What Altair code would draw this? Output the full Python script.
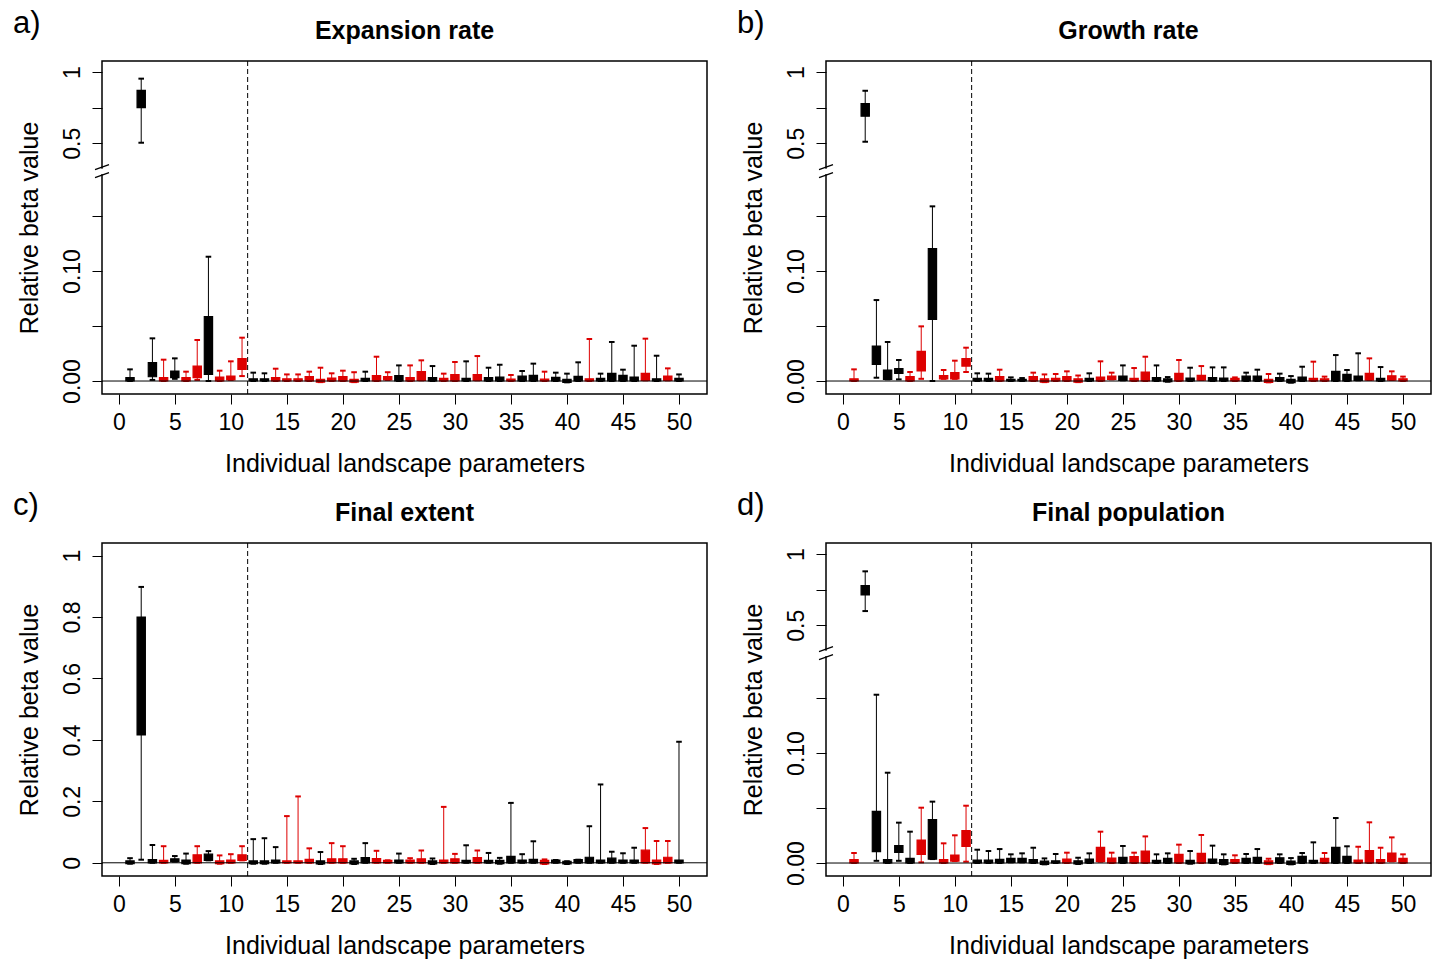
import altair as alt
import pandas as pd

FONT = "Liberation Sans"
RED = "#DD0000"
W, H = 605, 333
SPLIT = 11.5
BRK_LOW, BRK_HIGH, BRK_PIX = 0.1903, 0.3006, 110.7

PARAMS = list(range(1, 51))
X_TICKS = list(range(0, 51, 5))

TITLES = ["Expansion rate", "Growth rate", "Final extent", "Final population"]
LETTERS = ["a)", "b)", "c)", "d)"]

# ---- a) Expansion rate ----
A_COL = list("kkkrkrrkrr" "rkkrrrrrrr" "rkrrkrrkrr" "krkkrkkrkk" "krkkkkrkrk")
A_LO = [0, 0.504, 0.001, 0, 0.002, 0, 0.001, 0, 0, 0.001,
        0.0045, 0, 0, 0, 0, 0, 0, -0.001, 0, 0,
        -0.001, 0, 0, 0.001, 0, 0, 0.0006, 0, 0, 0,
        0, 0.0006, 0, 0, 0, 0, 0, 0, 0, -0.0012,
        0, 0, 0, 0, 0, 0, 0.0006, 0, 0.0006, 0]
A_Q1 = [0, 0.75, 0.0039, 0, 0.003, 0, 0.003, 0.0061, 0, 0.001,
        0.0106, 0, 0, 0, 0, 0, 0, -0.001, 0, 0,
        -0.001, 0, 0, 0.001, 0, 0, 0.0006, 0, 0, 0,
        0, 0.0006, 0, 0, 0, 0, 0, 0, 0, -0.0012,
        0, 0, 0, 0, 0, 0, 0.0006, 0, 0.0006, 0]
A_Q3 = [0.003, 0.872, 0.0167, 0.003, 0.0091, 0.003, 0.0136, 0.0585, 0.0036, 0.0045,
        0.0203, 0.002, 0.002, 0.003, 0.002, 0.002, 0.004, 0.0015, 0.0027, 0.004,
        0.0015, 0.0024, 0.005, 0.004, 0.005, 0.003, 0.0085, 0.003, 0.0024, 0.0058,
        0.0024, 0.0058, 0.003, 0.0036, 0.0018, 0.0045, 0.0052, 0.0018, 0.0033, 0.0015,
        0.0042, 0.002, 0.0024, 0.007, 0.0052, 0.0036, 0.007, 0.002, 0.0045, 0.0024]
A_HI = [0.0106, 0.954, 0.0388, 0.0194, 0.0206, 0.0085, 0.0373, 0.113, 0.0094, 0.0179,
        0.0394, 0.0076, 0.007, 0.0112, 0.006, 0.006, 0.0085, 0.0121, 0.007, 0.0094,
        0.008, 0.0085, 0.0221, 0.008, 0.0142, 0.0142, 0.0188, 0.0136, 0.0067, 0.0173,
        0.0179, 0.0227, 0.0121, 0.0148, 0.0055, 0.0091, 0.0158, 0.0085, 0.0076, 0.0067,
        0.017, 0.0382, 0.0067, 0.0355, 0.0103, 0.0321, 0.0385, 0.023, 0.0115, 0.006]

# ---- b) Growth rate ----
B_COL = list("rkkkkrrkrr" "rkkrkkrrrr" "rkrrkrrkkr" "krkkrkkrkk" "krrkkkrkrr")
B_LO = [0, 0.511, 0.003, 0.0015, 0.0015, 0, 0.002, 0, 0.002, 0.002,
        0.0082, 0, 0, 0, 0, 0, 0, -0.001, 0, 0,
        -0.001, 0, 0, 0.0015, 0.0006, 0, 0, 0, -0.0006, 0,
        0, 0.0009, 0, 0, 0, 0, 0, -0.0012, 0, -0.0015,
        0, 0, 0, 0, 0, 0.0006, 0.0009, 0, 0.0009, 0]
B_Q1 = [0, 0.69, 0.0152, 0.0015, 0.007, 0, 0.0091, 0.0561, 0.002, 0.002,
        0.0136, 0, 0, 0, 0, 0, 0, -0.001, 0, 0,
        -0.001, 0, 0, 0.0015, 0.0006, 0, 0, 0, -0.0006, 0,
        0, 0.0009, 0, 0, 0, 0, 0, -0.0012, 0, -0.0015,
        0, 0, 0, 0, 0, 0.0006, 0.0009, 0, 0.0009, 0]
B_Q3 = [0.002, 0.778, 0.0318, 0.01, 0.0112, 0.004, 0.027, 0.1203, 0.005, 0.0076,
        0.0203, 0.0024, 0.0024, 0.004, 0.0015, 0.0015, 0.004, 0.002, 0.0024, 0.004,
        0.002, 0.0024, 0.0036, 0.0045, 0.0045, 0.0024, 0.0082, 0.003, 0.002, 0.007,
        0.0027, 0.0052, 0.003, 0.0027, 0.0024, 0.0045, 0.0045, 0.0015, 0.003, 0.0015,
        0.0036, 0.0024, 0.002, 0.0088, 0.006, 0.0045, 0.007, 0.0024, 0.0048, 0.002]
B_HI = [0.0106, 0.869, 0.0736, 0.0355, 0.0191, 0.0082, 0.0497, 0.1588, 0.01, 0.0185,
        0.0303, 0.007, 0.0067, 0.0103, 0.0033, 0.0027, 0.0076, 0.006, 0.0064, 0.0088,
        0.005, 0.007, 0.0179, 0.0076, 0.0142, 0.0118, 0.0221, 0.0142, 0.0036, 0.0191,
        0.0121, 0.0136, 0.0124, 0.0124, 0.0033, 0.0076, 0.0103, 0.0064, 0.0067, 0.0045,
        0.013, 0.0176, 0.004, 0.0236, 0.01, 0.0252, 0.0206, 0.0127, 0.0088, 0.004]

# ---- c) Final extent ----
C_COL = list("kkkrkkrkrr" "rkkkrrrkrr" "kkrrkrrkrr" "krkkkkkrkk" "kkkkkkrrrk")
C_LO = [-0.003, 0.01, 0, 0, 0.004, -0.003, 0, 0.008, -0.003, 0,
        0.008, -0.003, -0.003, 0, 0, 0, 0, -0.004, 0, 0,
        -0.004, 0, 0, 0, 0, 0, 0, -0.004, 0, 0,
        0, 0, 0, -0.003, 0, 0, 0, -0.004, 0, -0.004,
        0, 0, 0, 0, 0, 0, 0, -0.004, 0, 0]
C_Q1 = [-0.003, 0.416, 0, 0, 0.004, -0.003, 0, 0.008, -0.003, 0,
        0.008, -0.003, -0.003, 0, 0, 0, 0, -0.004, 0, 0,
        -0.004, 0, 0, 0, 0, 0, 0, -0.004, 0, 0,
        0, 0, 0, -0.003, 0, 0, 0, -0.004, 0, -0.004,
        0, 0, 0, 0, 0, 0, 0, -0.004, 0, 0]
C_Q3 = [0.006, 0.80, 0.01, 0.008, 0.013, 0.009, 0.026, 0.028, 0.006, 0.009,
        0.026, 0.006, 0.006, 0.009, 0.006, 0.006, 0.011, 0.006, 0.013, 0.013,
        0.006, 0.017, 0.014, 0.008, 0.009, 0.009, 0.013, 0.006, 0.009, 0.013,
        0.008, 0.017, 0.008, 0.008, 0.021, 0.009, 0.011, 0.008, 0.009, 0.005,
        0.01, 0.018, 0.009, 0.015, 0.009, 0.009, 0.041, 0.009, 0.018, 0.009]
C_HI = [0.015, 0.898, 0.058, 0.054, 0.022, 0.03, 0.054, 0.038, 0.024, 0.028,
        0.054, 0.077, 0.08, 0.051, 0.152, 0.216, 0.047, 0.035, 0.064, 0.054,
        0.013, 0.064, 0.039, 0.008, 0.03, 0.015, 0.04, 0.014, 0.182, 0.029,
        0.057, 0.04, 0.032, 0.016, 0.195, 0.028, 0.07, 0.011, 0.009, 0.005,
        0.01, 0.119, 0.255, 0.036, 0.031, 0.049, 0.113, 0.071, 0.071, 0.394]

# ---- d) Final population ----
D_COL = list("rkkkkkrkrr" "rkkkkkkkkr" "kkrrkrrkkr" "krkkrkkrkk" "kkrkkrrrrr")
D_LO = [0, 0.60, 0.002, 0, 0.002, 0, 0.0006, 0.0036, 0, 0.0018,
        0.0012, 0, 0, 0, 0.0006, 0.0006, 0, -0.0012, 0, 0,
        -0.0009, 0, 0.0012, 0, 0, 0, 0, 0, 0, 0,
        -0.0006, 0, 0, -0.0012, 0, 0, 0, -0.001, 0, -0.0012,
        0, 0, 0, 0, 0, 0, 0, 0, 0.0015, 0]
D_Q1 = [0, 0.713, 0.0103, 0, 0.0097, 0, 0.0079, 0.0036, 0, 0.0018,
        0.0152, 0, 0, 0, 0.0006, 0.0006, 0, -0.0012, 0, 0,
        -0.0009, 0, 0.0012, 0, 0, 0, 0, 0, 0, 0,
        -0.0006, 0, 0, -0.0012, 0, 0, 0, -0.001, 0, -0.0012,
        0, 0, 0, 0, 0, 0, 0, 0, 0.0015, 0]
D_Q3 = [0.003, 0.778, 0.047, 0.003, 0.0158, 0.0042, 0.0209, 0.0394, 0.003, 0.0073,
        0.0294, 0.0027, 0.0027, 0.0033, 0.0042, 0.0042, 0.003, 0.0018, 0.002, 0.0036,
        0.002, 0.0036, 0.0142, 0.0045, 0.0052, 0.0058, 0.0109, 0.0024, 0.0042, 0.0079,
        0.0024, 0.0088, 0.0036, 0.003, 0.003, 0.0042, 0.0052, 0.002, 0.0048, 0.0018,
        0.006, 0.0024, 0.0042, 0.0142, 0.006, 0.0027, 0.0112, 0.003, 0.0091, 0.0042]
D_HI = [0.0091, 0.879, 0.153, 0.0821, 0.0367, 0.0285, 0.0503, 0.0558, 0.0179, 0.0252,
        0.0521, 0.0121, 0.0109, 0.0127, 0.0079, 0.0088, 0.0139, 0.0042, 0.0082, 0.0094,
        0.0048, 0.0088, 0.0285, 0.0094, 0.0155, 0.0094, 0.0242, 0.0079, 0.0088, 0.0167,
        0.0109, 0.0255, 0.0158, 0.0079, 0.007, 0.0082, 0.0127, 0.0039, 0.0079, 0.0045,
        0.0091, 0.0188, 0.0091, 0.0409, 0.0152, 0.0148, 0.037, 0.0139, 0.0233, 0.0079]


def make_panel(letter, title, col, lo, q1, q3, hi, broken):
    df = pd.DataFrame({"param": PARAMS, "col": col, "lo": lo,
                       "q1": q1, "q3": q3, "hi": hi})
    xs = alt.Scale(domain=[-1.5, 52.5], nice=False, zero=False)
    if broken:
        ys = alt.Scale(domain=[-0.0118, BRK_LOW, BRK_HIGH, 1.078],
                       range=[H, BRK_PIX, BRK_PIX, 0], nice=False, zero=False)
        yvals = [0, 0.05, 0.1, 0.15, 0.5, 0.75, 1]
        lab = ("datum.value == 0 ? '0.00' : abs(datum.value - 0.1) < 1e-9 ? '0.10' : "
               "datum.value == 0.5 ? '0.5' : datum.value == 1 ? '1' : ''")
    else:
        ys = alt.Scale(domain=[-0.043, 1.041], nice=False, zero=False)
        yvals = [0, 0.2, 0.4, 0.6, 0.8, 1]
        lab = "format(datum.value, '~g')"

    xax = alt.Axis(values=X_TICKS, labelBaseline="alphabetic", labelPadding=25,
                   labelAlign="center", titleY=77, titleBaseline="alphabetic",
                   labelOverlap=False, labelFlush=False)
    yax = alt.Axis(values=yvals, labelExpr=lab, labelAngle=270, labelAlign="center",
                   labelBaseline="alphabetic", labelPadding=13, titleAngle=270,
                   titleX=-65, titleY=H / 2, titleAlign="center",
                   titleBaseline="alphabetic", labelOverlap=False, labelFlush=False)

    def X(f):
        return alt.X(f, type="quantitative", scale=xs, axis=xax,
                     title="Individual landscape parameters")

    def Y(f):
        return alt.Y(f, type="quantitative", scale=ys, axis=yax,
                     title="Relative beta value")

    cscale = alt.Scale(domain=["k", "r"], range=["#000000", RED])
    colr = alt.Color("col:N", scale=cscale, legend=None)
    strk = alt.Stroke("col:N", scale=cscale, legend=None)

    base = alt.Chart(df)
    whisk = base.mark_rule(strokeWidth=1).encode(
        x=X("param"), y=Y("lo"), y2=alt.Y2("hi"), color=colr)
    caps = base.transform_fold(["lo", "hi"], as_=["end", "val"]).transform_calculate(
        c1="datum.param - 0.25", c2="datum.param + 0.25").mark_rule(strokeWidth=2).encode(
        x=X("c1"), x2=alt.X2("c2"), y=Y("val"), color=colr)
    boxes = base.transform_calculate(
        b1="datum.param - 0.37", b2="datum.param + 0.37").mark_rect(strokeWidth=1.2).encode(
        x=X("b1"), x2=alt.X2("b2"), y=Y("q1"), y2=alt.Y2("q3"), color=colr, stroke=strk)
    zero = alt.Chart(pd.DataFrame({"z": [0]})).mark_rule(
        color="black", strokeWidth=1).encode(y=Y("z"))
    split = alt.Chart(pd.DataFrame({"s": [SPLIT]})).mark_rule(
        color="black", strokeWidth=1, strokeDash=[5, 3]).encode(x=X("s"))
    lab_txt = alt.Chart(pd.DataFrame({"t": [letter]})).mark_text(
        align="left", baseline="alphabetic", fontSize=31, font=FONT, color="black").encode(
        text="t:N", x=alt.value(-89), y=alt.value(-28))
    ttl_txt = alt.Chart(pd.DataFrame({"t": [title]})).mark_text(
        align="center", baseline="alphabetic", fontSize=25, fontWeight="bold",
        font=FONT, color="black").encode(
        text="t:N", x=alt.value(W / 2), y=alt.value(-22))

    layers = [whisk, caps, boxes, zero, split]
    if broken:
        bdf = pd.DataFrame({"b": [BRK_LOW]})
        gap = alt.Chart(bdf).mark_rule(color="white", strokeWidth=3, yOffset=-3,
                                       y2Offset=2.5).encode(
            x=alt.value(0), y=Y("b"), y2=alt.Y2("b"))
        s1 = alt.Chart(bdf).mark_rule(color="black", strokeWidth=1.3, yOffset=-2,
                                      y2Offset=-7).encode(
            x=alt.value(-7), x2=alt.value(7), y=Y("b"), y2=alt.Y2("b"))
        s2 = alt.Chart(bdf).mark_rule(color="black", strokeWidth=1.3, yOffset=6,
                                      y2Offset=1).encode(
            x=alt.value(-7), x2=alt.value(7), y=Y("b"), y2=alt.Y2("b"))
        layers += [gap, s1, s2]
    layers += [lab_txt, ttl_txt]

    return alt.layer(*layers).properties(width=W, height=H)


pa = make_panel(LETTERS[0], TITLES[0], A_COL, A_LO, A_Q1, A_Q3, A_HI, True)
pb = make_panel(LETTERS[1], TITLES[1], B_COL, B_LO, B_Q1, B_Q3, B_HI, True)
pc = make_panel(LETTERS[2], TITLES[2], C_COL, C_LO, C_Q1, C_Q3, C_HI, False)
pd_ = make_panel(LETTERS[3], TITLES[3], D_COL, D_LO, D_Q1, D_Q3, D_HI, True)

chart = alt.vconcat(
    alt.hconcat(pa, pb, spacing=27),
    alt.hconcat(pc, pd_, spacing=27),
    spacing=12,
).properties(
    padding={"left": 12, "top": 7, "right": 0, "bottom": 0}
).configure(font=FONT).configure_view(
    stroke="black", strokeWidth=1.5
).configure_axis(
    labelFont=FONT, labelFontSize=23, labelColor="black",
    titleFont=FONT, titleFontSize=25, titleFontWeight="normal", titleColor="black",
    tickColor="black", tickSize=10, tickWidth=1, grid=False, domain=False
)

chart.save("out.html", embed_options={"renderer": "svg", "actions": False})
